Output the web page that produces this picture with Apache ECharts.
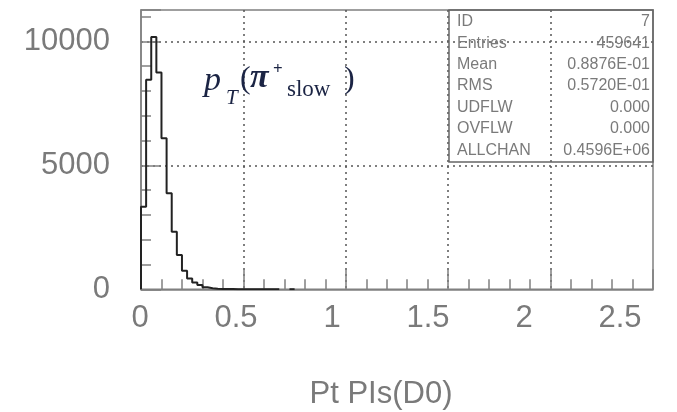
<!DOCTYPE html>
<html><head><meta charset="utf-8">
<script src="https://cdn.jsdelivr.net/npm/echarts@6/dist/echarts.min.js"></script>
<style>html,body{margin:0;padding:0;background:#fff}#c{width:677px;height:412px}</style>
</head><body><div id="c"></div>
<script>
// ---- data ----
const binStart = 0;
const binWidth = 0.025;
const counts = [3330, 8450, 10170, 8740, 6090, 3870, 2320, 1380, 750, 440,
                270, 170, 80, 40, 22, 14, 10, 8, 6, 5,
                4, 3, 3, 2, 2, 1, 1, null, null, 1];
const xMin = 0, xMax = 2.5, xMajor = 0.5;
const yMin = 0, yMax = 11260, yMajor = 5000, yMinor = 1000;
const xTitle = 'Pt PIs(D0)';
const statsLabels = ['ID', 'Entries', 'Mean', 'RMS', 'UDFLW', 'OVFLW', 'ALLCHAN'];
const statsValues = ['7', '459641', '0.8876E-01', '0.5720E-01', '0.000', '0.000', '0.4596E+06'];

// ---- build histogram outline ----
const histPts = [[binStart, 0]];
counts.forEach((v, i) => {
  const x0 = binStart + i * binWidth, x1 = x0 + binWidth;
  if (v === null) { histPts.push([x0, null]); return; }
  histPts.push([x0, v], [x1, v]);
});

const frameColor = '#808080';
const gridDot = { color: '#555', type: [2, 4], width: 1.5 };
const labelFont = { fontFamily: 'Liberation Sans', fontSize: 31, color: '#7a7a7a' };

const graphic = [
  { type: 'rect', shape: { x: 449, y: 10, width: 204, height: 152 },
    style: { fill: 'none', stroke: '#666', lineWidth: 1.5 }, z: 10 },
  { type: 'text', x: 381, y: 394, z: 11,
    style: { text: xTitle, fill: '#7a7a7a', font: '31px "Liberation Sans"', textAlign: 'center', textVerticalAlign: 'middle' } }
];
statsLabels.forEach((t, i) => {
  const y = 21.7 + 21.4 * i;
  graphic.push({ type: 'text', x: 457, y: y, z: 11,
    style: { text: t, fill: '#7a7a7a', font: '16px "Liberation Sans"', textAlign: 'left', textVerticalAlign: 'middle' } });
  graphic.push({ type: 'text', x: 650, y: y, z: 11,
    style: { text: statsValues[i], fill: '#7a7a7a', font: '16px "Liberation Sans"', textAlign: 'right', textVerticalAlign: 'middle' } });
});
// formula annotation p_T(pi+_slow)
const fc = '#1b2444';
const parts = [
  { t: 'p', x: 204, y: 81, f: 'italic 34px "Liberation Serif"' },
  { t: 'T', x: 226, y: 98, f: 'italic 21px "Liberation Serif"' },
  { t: '(', x: 240, y: 80, f: '32px "Liberation Serif"' },
  { t: 'π', x: 250, y: 78, f: 'italic bold 34px "Liberation Serif"' },
  { t: '+', x: 273, y: 70, f: 'bold 17px "Liberation Serif"' },
  { t: 'slow', x: 287, y: 90, f: '23px "Liberation Serif"' },
  { t: ')', x: 344, y: 80, f: '32px "Liberation Serif"' }
];
parts.forEach(p => graphic.push({ type: 'text', x: p.x, y: p.y, z: 11,
  style: { text: p.t, fill: fc, font: p.f, textAlign: 'left', textVerticalAlign: 'middle' } }));

const chart = echarts.init(document.getElementById('c'), null, { renderer: 'canvas' });
chart.setOption({
  animation: false,
  backgroundColor: '#fff',
  grid: [
    { left: 141, top: 10, width: 512, height: 279.3, show: true, borderColor: frameColor, borderWidth: 1.5, backgroundColor: 'transparent' },
    { left: 140, top: 10, width: 480, height: 279.3, show: false }
  ],
  xAxis: [
    { gridIndex: 0, type: 'value', min: xMin, max: xMax, interval: xMajor,
      axisLine: { show: true, lineStyle: { color: frameColor, width: 1.5 } },
      axisTick: { show: true, inside: true, length: 20, lineStyle: { color: frameColor, width: 1.5 } },
      minorTick: { show: true, splitNumber: 5, length: 10, lineStyle: { color: frameColor, width: 1.5 } },
      axisLabel: { show: false },
      splitLine: { show: true, showMinLine: false, showMaxLine: false, lineStyle: gridDot },
      minorSplitLine: { show: false } },
    { gridIndex: 1, type: 'value', min: xMin, max: xMax, interval: xMajor,
      axisLine: { show: false }, axisTick: { show: false }, splitLine: { show: false },
      axisLabel: Object.assign({ show: true, margin: 14, formatter: v => String(v) }, labelFont) }
  ],
  yAxis: [
    { gridIndex: 0, type: 'value', min: yMin, max: yMax, interval: yMinor, position: 'left',
      axisLine: { show: true, lineStyle: { color: frameColor, width: 1.5 } },
      axisTick: { show: true, inside: true, length: 10, lineStyle: { color: frameColor, width: 1.5 } },
      axisLabel: Object.assign({ show: true, margin: 31, formatter: v => (v % yMajor === 0 ? String(v) : '') }, labelFont),
      splitLine: { show: false } },
    { gridIndex: 0, type: 'value', min: yMin, max: yMax, interval: yMajor, position: 'left', offset: 0,
      axisLine: { show: false },
      axisTick: { show: true, inside: true, length: 20, lineStyle: { color: frameColor, width: 1.5 } },
      axisLabel: { show: false },
      splitLine: { show: true, showMinLine: false, showMaxLine: false, lineStyle: gridDot } },
    { gridIndex: 1, type: 'value', show: false, min: yMin, max: yMax }
  ],
  series: [{
    type: 'line', xAxisIndex: 0, yAxisIndex: 0, data: histPts,
    symbol: 'none', connectNulls: false, silent: true, z: 5,
    lineStyle: { color: '#222', width: 2 }
  }],
  graphic: graphic
});
</script></body></html>
